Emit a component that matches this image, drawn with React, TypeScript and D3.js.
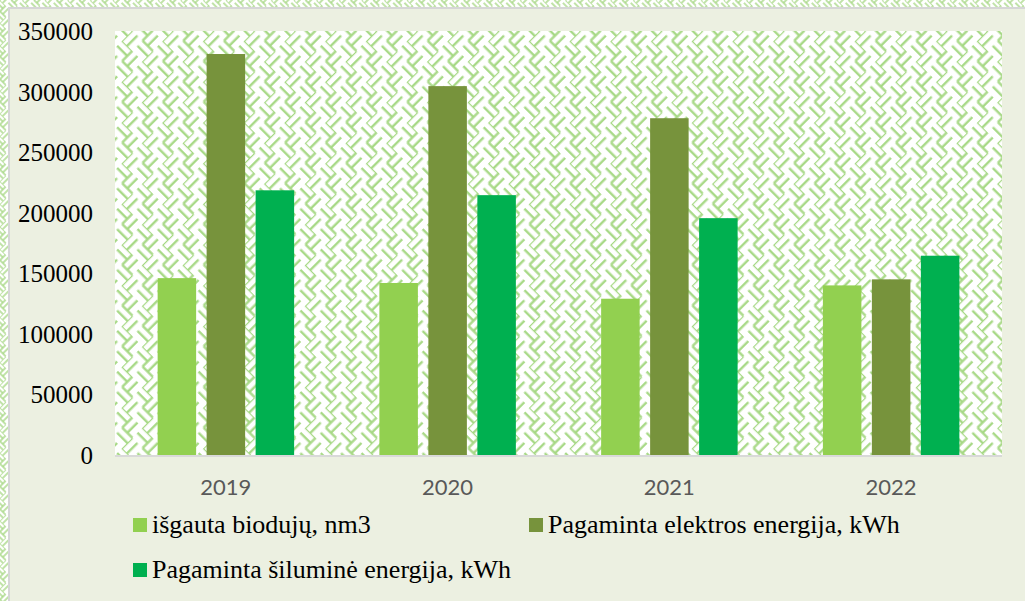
import React from "react";
import * as d3 from "d3";

const years = ["2019", "2020", "2021", "2022"];
const seriesNames = [
  "išgauta biodujų, nm3",
  "Pagaminta elektros energija, kWh",
  "Pagaminta šiluminė energija, kWh",
];
const biogas = [146000, 142000, 129000, 140000];
const electricity = [331000, 304500, 278000, 145000];
const heat = [218500, 214500, 195500, 164500];
const yTicks = [0, 50000, 100000, 150000, 200000, 250000, 300000, 350000];
const colors = ["#92D050", "#77933C", "#00B050"];

const W = 1025;
const H = 601;
const plot = { left: 115, right: 1002, top: 31, bottom: 455 };

const WeavePattern = ({ id, scale, sw }) => (
  <pattern
    id={id}
    width={16}
    height={16}
    patternUnits="userSpaceOnUse"
    patternTransform={`rotate(45) scale(${scale})`}
  >
    <rect width={16} height={16} fill="#ffffff" />
    <g stroke="#A6D884" strokeWidth={sw} fill="none">
      {/* top-left: horizontal */}
      <line x1={0} y1={0} x2={8} y2={0} />
      <line x1={0} y1={4} x2={8} y2={4} />
      {/* top-right: vertical */}
      <line x1={8} y1={0} x2={8} y2={8} />
      <line x1={12} y1={0} x2={12} y2={8} />
      {/* bottom-left: vertical */}
      <line x1={0} y1={8} x2={0} y2={16} />
      <line x1={4} y1={8} x2={4} y2={16} />
      {/* bottom-right: horizontal */}
      <line x1={8} y1={8} x2={16} y2={8} />
      <line x1={8} y1={12} x2={16} y2={12} />
    </g>
  </pattern>
);

export default function App() {
  const data = [biogas, electricity, heat];

  const y = d3.scaleLinear().domain([0, 350000]).range([plot.bottom, plot.top]);
  const x0 = d3
    .scaleBand()
    .domain(years)
    .range([plot.left, plot.right])
    .paddingInner(0.3845)
    .paddingOuter(0.19225);
  const x1 = d3
    .scaleBand()
    .domain(seriesNames)
    .range([0, x0.bandwidth()])
    .paddingInner(0.214)
    .paddingOuter(0);

  const serif =
    "'Times New Roman', 'Liberation Serif', Tinos, 'DejaVu Serif', 'Noto Serif', serif";

  return (
    <svg
      width={W}
      height={H}
      style={{ position: "absolute", left: 0, top: 0 }}
      xmlns="http://www.w3.org/2000/svg"
    >
      <defs>
        <WeavePattern id="weave" scale={1.8} sw={1.3} />
        <WeavePattern id="weaveSmall" scale={1} sw={1.4} />
      </defs>

      {/* outer frame */}
      <rect x={0} y={0} width={W} height={H} fill="url(#weaveSmall)" />
      <rect x={9} y={8} width={W} height={H} fill="#ECF0E1" stroke="#D6D6D6" strokeWidth={2} />

      {/* plot area */}
      <rect
        x={plot.left}
        y={plot.top}
        width={plot.right - plot.left}
        height={plot.bottom - plot.top}
        fill="url(#weave)"
      />

      {/* bars */}
      {years.map((yr, i) => (
        <g key={yr} transform={`translate(${x0(yr)},0)`}>
          {seriesNames.map((s, j) => (
            <rect
              key={s}
              x={x1(s)}
              y={y(data[j][i])}
              width={x1.bandwidth()}
              height={plot.bottom - y(data[j][i])}
              fill={colors[j]}
            />
          ))}
        </g>
      ))}

      {/* x axis line */}
      <line
        x1={plot.left}
        x2={plot.right}
        y1={plot.bottom + 1}
        y2={plot.bottom + 1}
        stroke="#D9D9D9"
        strokeWidth={2}
      />

      {/* y tick labels */}
      {yTicks.map((t) => (
        <text
          key={t}
          x={93}
          y={y(t) + 9}
          textAnchor="end"
          fontFamily={serif}
          fontSize={25}
          fill="#000"
        >
          {t}
        </text>
      ))}

      {/* x labels */}
      {years.map((yr) => (
        <text
          key={yr}
          x={(x0(yr) ?? 0) + x0.bandwidth() / 2}
          y={495}
          textAnchor="middle"
          fontFamily="Lato, 'Liberation Sans', sans-serif"
          fontSize={22}
          fill="#595959"
        >
          {yr}
        </text>
      ))}

      {/* legend */}
      {[
        { x: 133, y: 518 },
        { x: 529, y: 518 },
        { x: 133, y: 563 },
      ].map((p, j) => (
        <g key={seriesNames[j]}>
          <rect x={p.x} y={p.y} width={14} height={14} fill={colors[j]} />
          <text x={p.x + 19} y={p.y + 15} fontFamily={serif} fontSize={26} fill="#000">
            {seriesNames[j]}
          </text>
        </g>
      ))}
    </svg>
  );
}
